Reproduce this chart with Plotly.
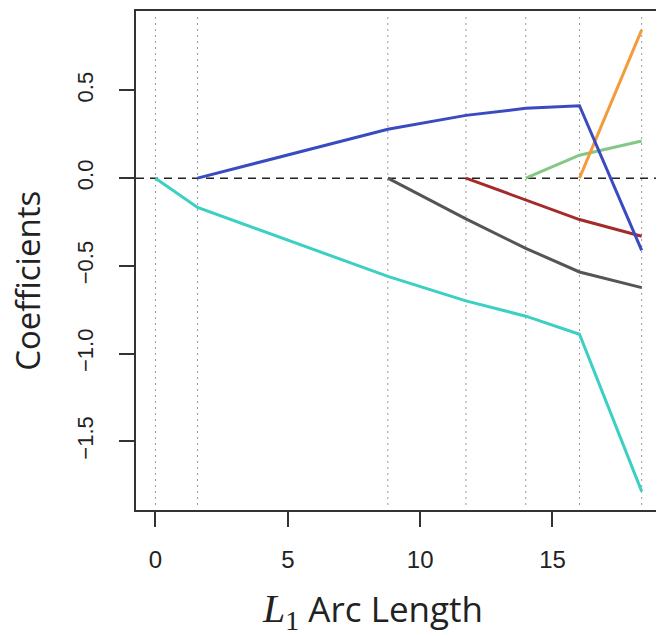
import plotly.graph_objects as go

# Knots of the lasso path (L1 arc length)
knots = [0, 1.59, 8.78, 11.73, 13.99, 16.02, 18.37]

# Coefficient values at each knot (None = not yet in the model)
coef_cyan   = [0, -0.167, -0.560, -0.700, -0.787, -0.890, -1.786]
coef_blue   = [None, 0, 0.279, 0.358, 0.398, 0.413, -0.412]
coef_grey   = [None, None, 0, -0.232, -0.400, -0.535, -0.624]
coef_red    = [None, None, None, 0, -0.124, -0.236, -0.331]
coef_green  = [None, None, None, None, 0, 0.131, 0.212]
coef_orange = [None, None, None, None, None, 0, 0.845]

series = [
    (coef_cyan, "#3ccfc4"),
    (coef_grey, "#555555"),
    (coef_red, "#a52a2a"),
    (coef_green, "#85c785"),
    (coef_orange, "#f39c3c"),
    (coef_blue, "#3a4bc2"),
]

xticks = [0, 5, 10, 15]
yticks = [-1.5, -1.0, -0.5, 0.0, 0.5]
yticklabels = ["\u22121.5", "\u22121.0", "\u22120.5", "0.0", "0.5"]

fig = go.Figure()
for vals, col in series:
    xs = [k for k, v in zip(knots, vals) if v is not None]
    ys = [v for v in vals if v is not None]
    fig.add_trace(go.Scatter(x=xs, y=ys, mode="lines",
                             line=dict(color=col, width=3), showlegend=False,
                             hoverinfo="skip"))

shapes = []
for k in knots:
    shapes.append(dict(type="line", xref="x", yref="paper", x0=k, x1=k, y0=0.01, y1=0.99,
                       line=dict(color="#999999", width=1, dash="2px,4px"), layer="below"))
shapes.append(dict(type="line", xref="paper", yref="y", x0=0, x1=1, y0=0, y1=0,
                   line=dict(color="#222222", width=1.5, dash="8px,6px"), layer="below"))

axis_common = dict(showgrid=False, zeroline=False, showline=True, linecolor="#333333",
                   linewidth=1.5, mirror=True, ticks="outside", ticklen=15,
                   tickwidth=1.5, tickcolor="#333333")

# The page body has an 8px margin, so the figure is 8px smaller and offset.
PW, PH = 656, 628
L, T, R, B = 128, 2, 1, 126
pw = PW - L - R
ph = PH - T - B

fig.update_layout(
    width=PW, height=PH,
    margin=dict(l=L, r=R, t=T, b=B),
    paper_bgcolor="white", plot_bgcolor="white",
    xaxis=dict(range=[-0.735, 19.1], tickvals=xticks, ticktext=[str(t) for t in xticks],
               ticklabelstandoff=12,
               tickfont=dict(family="Liberation Sans", size=24, color="#222222"),
               **axis_common),
    yaxis=dict(range=[-1.892, 0.953], tickvals=yticks, ticktext=yticklabels,
               tickangle=-90, ticklabelstandoff=17,
               tickfont=dict(family="Liberation Sans", size=22, color="#222222"),
               **axis_common),
    shapes=shapes,
    annotations=[
        dict(text="Coefficients", xref="paper", yref="paper",
             x=(19 - L) / pw, y=(502 - 272) / ph, xanchor="center", yanchor="middle",
             textangle=-90, showarrow=False,
             font=dict(family="Open Sans", size=33, color="#222222")),
        dict(text="<span style='font-family:Liberation Serif;font-size:40px'><i>L</i><sub>1</sub></span> Arc Length",
             xref="paper", yref="paper",
             x=(365 - L) / pw, y=-(603 - 502) / ph, xanchor="center", yanchor="middle",
             showarrow=False,
             font=dict(family="Open Sans", size=35, color="#222222")),
    ],
)

fig.write_html("out.html")
